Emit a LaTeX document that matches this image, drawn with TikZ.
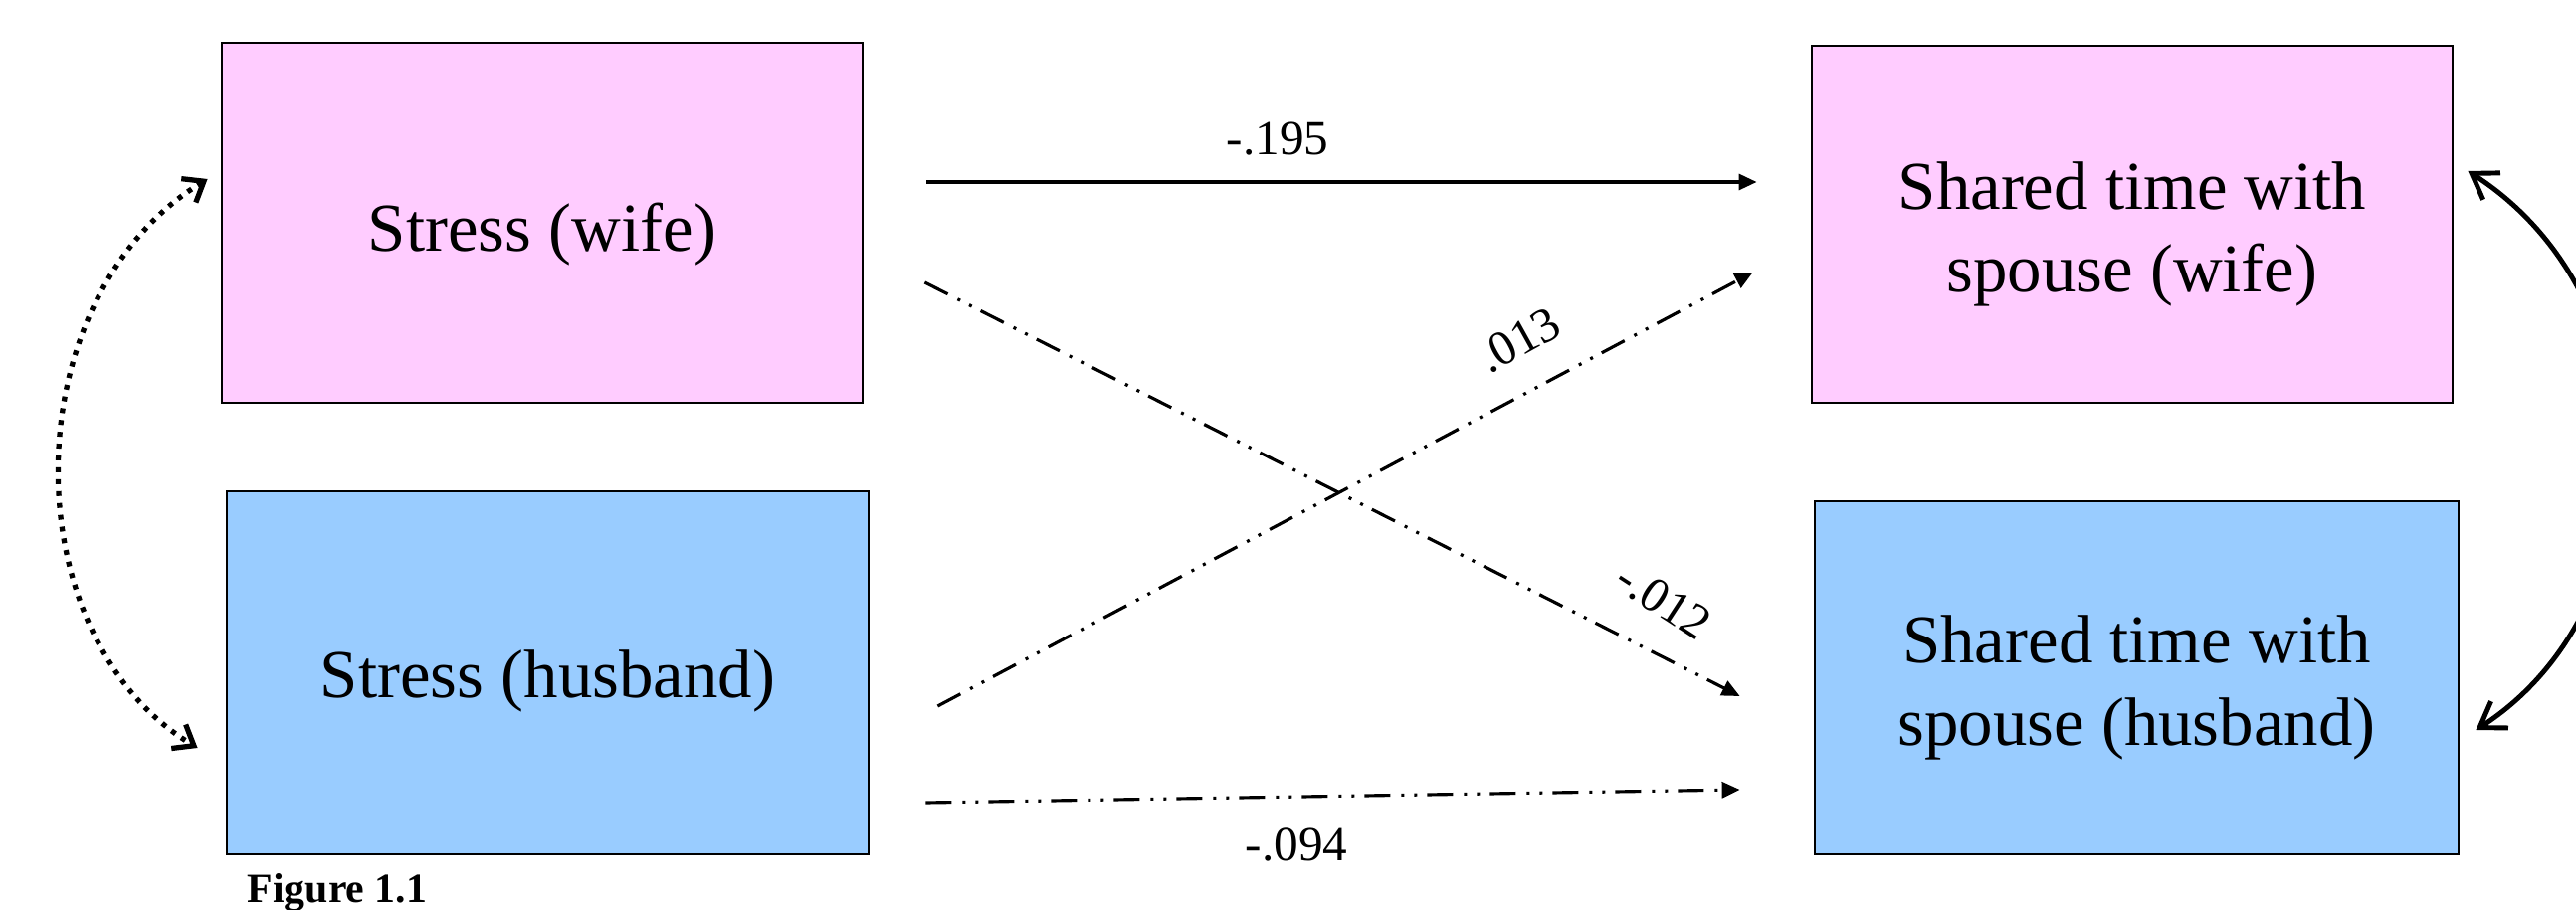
\documentclass[tikz,border=0pt]{standalone}
\usepackage{fontspec}
\setmainfont{Liberation Serif}
\usetikzlibrary{arrows.meta}
\definecolor{wifepink}{HTML}{FFCCFF}
\definecolor{husblue}{HTML}{99CCFF}
\newcommand\loweredtext[2]{\raisebox{-#1}[\height][\depth]{#2}}
\begin{document}
\begin{tikzpicture}[x=0.1mm,y=-0.1mm,
  box/.style={draw,line width=0.8pt,rectangle,inner sep=0pt,align=center,
    font=\fontsize{19.6}{23.5}\selectfont},
  pinkbox/.style={box,fill=wifepink},
  bluebox/.style={box,fill=husblue},
  coef/.style={font=\fontsize{14}{16}\selectfont,inner sep=0pt},
  solidarrow/.style={line width=0.9pt,-{Triangle[length=1.8mm,width=1.6mm]}},
  dasharrow/.style={line width=0.9pt,
    dash pattern=on 2.6mm off 1.1mm on 0.3mm off 1.0mm on 0.3mm off 1.0mm,
    -{Triangle[length=1.8mm,width=1.6mm]}},
  dotcurve/.style={line width=1.5pt,dash pattern=on 1.4pt off 2pt,
    {Straight Barb[length=1.8mm,width=2.8mm]}-{Straight Barb[length=1.8mm,width=2.8mm]}},
  solidcurve/.style={line width=1.4pt,
    {Straight Barb[length=2.4mm,width=3.2mm]}-{Straight Barb[length=2.4mm,width=3.2mm]}}
]
\useasboundingbox (0,0) rectangle (2589,915);
\fill[white] (0,0) rectangle (2589,915);
\clip (0,0) rectangle (2589,915);

% boxes
\node[pinkbox,minimum width=64.4mm,minimum height=36.2mm] (sw) at (545,224)
  {\loweredtext{3.3pt}{Stress (wife)}};
\node[bluebox,minimum width=64.5mm,minimum height=36.5mm] (sh) at (550.5,676.5)
  {\loweredtext{2.4pt}{Stress (husband)}};
\node[pinkbox,minimum width=64.4mm,minimum height=35.9mm] (tw) at (2143,225.5)
  {\loweredtext{2.8pt}{\begin{tabular}{@{}c@{}}Shared time with\\spouse (wife)\end{tabular}}};
\node[bluebox,minimum width=64.7mm,minimum height=35.5mm] (th) at (2147.5,681.5)
  {\loweredtext{2.8pt}{\begin{tabular}{@{}c@{}}Shared time with\\spouse (husband)\end{tabular}}};

% paths
\draw[solidarrow] ([shift={(63,-41)}]sw.east) -- ([shift={(-54,-42.5)}]tw.west);
\draw[dasharrow] ([shift={(61,60)}]sw.east) -- ([shift={(-74,18.5)}]th.west);
\draw[dasharrow] ([shift={(68,33.5)}]sh.east) -- ([shift={(-58,48.5)}]tw.west);
\draw[dasharrow] ([shift={(56,130.5)}]sh.east) -- ([shift={(-74,112.5)}]th.west);

% correlations
\draw[dotcurve] ([shift={(-13,-44)}]sw.west) .. controls (12,300) and (12,640) .. ([shift={(-28,75.5)}]sh.west);
\draw[solidcurve] ([shift={(14,-53.5)}]tw.east) .. controls (2680,300) and (2680,610) .. ([shift={(16,52.5)}]th.east);

% coefficients
\node[coef] (c1) at (1284,140) {-.195};
\node[coef,rotate=29] (c2) at (1527,342) {.013};
\node[coef,rotate=-33] (c3) at (1672,604) {-.012};
\node[coef] (c4) at (1303,849) {-.094};

% caption
\node[anchor=base west,inner sep=0pt,font=\fontsize{11.9}{14}\selectfont\bfseries] (cap) at (248,908) {Figure 1.1};
\end{tikzpicture}
\end{document}
